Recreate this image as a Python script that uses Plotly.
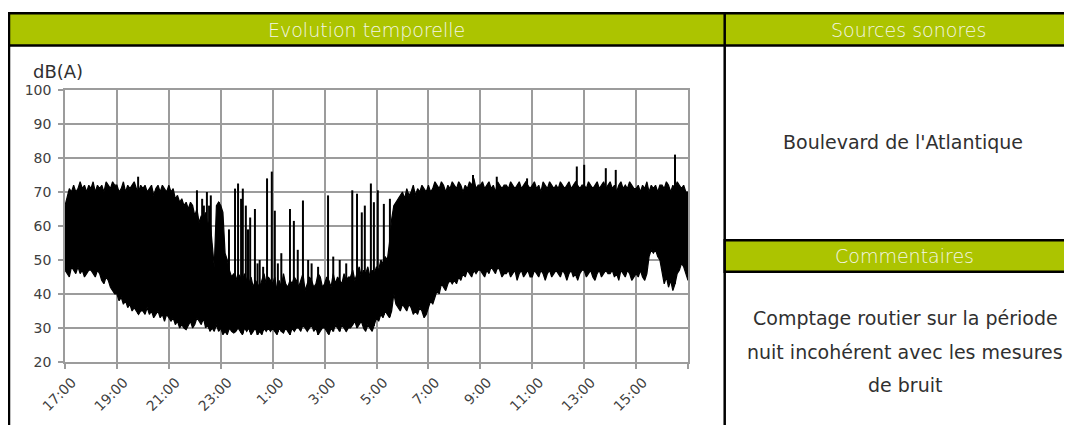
import numpy as np
import plotly.graph_objects as go

# ---------------- data ----------------
# 5-minute envelope of the noise level, 17:00 -> 17:00 next day (289 points)
level_high = [
    66, 69, 71, 70, 72, 70, 71, 73, 71, 72, 70, 72,   # 17h
    71, 73, 70, 72, 71, 72, 70, 73, 72, 71, 73, 72,   # 18h
    72, 70, 71, 73, 70, 72, 71, 72, 73, 71, 70, 72,   # 19h
    71, 72, 70, 71, 72, 69, 71, 72, 70, 72, 71, 70,   # 20h
    72, 70, 71, 68, 69, 67, 68, 66, 67, 65, 67, 66,   # 21h
    63, 65, 61, 63, 62, 64, 60, 62, 55, 48, 66, 67,   # 22h
    66, 64, 52, 50, 47, 45, 46, 44, 46, 45, 44, 46,   # 23h
    44, 43, 45, 42, 44, 43, 42, 44, 46, 43, 45, 44,   # 0h
    43, 45, 41, 44, 42, 46, 43, 42, 44, 43, 45, 44,   # 1h
    42, 44, 46, 41, 43, 45, 44, 42, 43, 46, 45, 42,   # 2h
    43, 45, 44, 42, 46, 43, 45, 44, 43, 46, 44, 45,   # 3h
    45, 47, 44, 46, 48, 45, 47, 46, 48, 45, 47, 46,   # 4h
    48, 47, 50, 49, 51, 50, 55, 62, 66, 67, 68, 69,   # 5h
    70, 68, 71, 69, 70, 72, 69, 71, 70, 72, 71, 70,   # 6h
    72, 70, 71, 73, 72, 71, 73, 72, 70, 72, 71, 73,   # 7h
    72, 71, 73, 72, 70, 72, 71, 73, 72, 74, 71, 72,   # 8h
    72, 73, 71, 72, 73, 71, 72, 70, 73, 72, 71, 72,   # 9h
    72, 71, 73, 72, 71, 72, 73, 71, 72, 73, 72, 71,   # 10h
    72, 73, 71, 72, 70, 73, 72, 71, 73, 72, 71, 72,   # 11h
    71, 73, 72, 71, 72, 73, 71, 72, 73, 72, 71, 72,   # 12h
    72, 71, 73, 72, 71, 72, 73, 71, 72, 73, 71, 72,   # 13h
    73, 71, 72, 70, 72, 73, 71, 72, 71, 73, 72, 71,   # 14h
    71, 72, 70, 72, 71, 73, 70, 72, 71, 72, 70, 72,   # 15h
    72, 71, 73, 72, 70, 72, 71, 73, 72, 71, 72, 70,   # 16h
    70,
]
level_low = [
    47, 46, 45, 48, 47, 46, 48, 46, 47, 45, 46, 47,   # 17h
    47, 46, 45, 47, 46, 44, 43, 45, 44, 42, 41, 40,   # 18h
    40, 38, 39, 37, 38, 36, 37, 35, 36, 35, 34, 35,   # 19h
    35, 34, 36, 34, 35, 33, 34, 35, 33, 34, 32, 34,   # 20h
    33, 32, 33, 31, 32, 30, 31, 30, 29.5, 31, 32, 30, # 21h
    31, 33, 32, 31, 33, 30, 31, 29, 30, 29, 31, 29,   # 22h
    30, 28, 29, 28, 30, 29, 28.5, 29, 30, 29, 28, 30, # 23h
    29, 30, 28, 29, 30, 28, 29, 28, 30, 29, 30, 29,   # 0h
    30, 29, 28, 30, 29, 28.5, 30, 29, 28, 30, 29, 30, # 1h
    30, 29, 31, 30, 29, 30, 31, 29, 30, 28, 29, 30,   # 2h
    30, 29, 28, 30, 29, 31, 30, 29, 31, 30, 29, 30,   # 3h
    30, 31, 32, 30, 31, 32, 30, 29, 31, 30, 29, 31,   # 4h
    33, 32, 34, 33, 35, 34, 33, 35, 40, 37, 36, 35,   # 5h
    37, 36, 35, 37, 36, 34, 35, 34, 36, 35, 33, 34,   # 6h
    36, 38, 37, 39, 41, 40, 43, 42, 41, 43, 44, 43,   # 7h
    44, 43, 45, 44, 46, 45, 47, 46, 45, 47, 46, 47,   # 8h
    47, 46, 45, 47, 46, 48, 47, 46, 48, 47, 45, 46,   # 9h
    46, 47, 45, 46, 47, 44, 46, 47, 45, 46, 47, 45,   # 10h
    45, 47, 46, 45, 47, 46, 44, 46, 47, 45, 46, 47,   # 11h
    46, 45, 47, 46, 44, 46, 47, 45, 46, 44, 46, 47,   # 12h
    47, 45, 46, 47, 45, 44, 46, 47, 45, 46, 47, 46,   # 13h
    46, 47, 45, 46, 44, 47, 46, 45, 47, 46, 44, 45,   # 14h
    46, 45, 47, 45, 44, 46, 51, 53, 52, 53, 51, 50,   # 15h
    47, 43, 45, 42, 44, 41, 43, 46, 47, 49, 48, 46,   # 16h
    44,
]
# isolated peaks (clock time, dB(A))
peak_times = ["19:49", "22:05", "22:17", "22:21", "22:28", "22:33", "22:37", "22:56",
              "23:19", "23:33", "23:40", "23:47", "23:51", "23:58", "0:03", "0:08",
              "0:19", "0:25", "0:30", "0:38", "0:47", "0:58", "1:05", "1:12", "1:20",
              "1:40", "1:49", "1:58", "2:10", "2:22", "2:30", "2:45", "3:08", "3:20",
              "3:35", "3:50", "4:04", "4:15", "4:26", "4:33", "4:47", "4:54",
              "5:03", "5:17", "5:31", "8:43", "9:38", "10:48", "12:43", "13:00",
              "13:50", "14:13", "16:30"]
peak_levels = [74.5, 70.5, 68, 66, 70, 66, 69, 67,
               59, 71, 72.5, 68, 71, 66, 59, 62.5,
               65, 49, 50, 48, 74, 76, 64.5, 49, 52,
               65, 61.5, 53, 67.5, 50, 49, 48, 69, 51,
               50, 49, 70.5, 69.5, 64, 66, 72.5, 67,
               70.5, 66.5, 68, 75, 74.5, 74, 77.5, 78,
               77, 76.5, 81]

tick_labels = ["17:00", "19:00", "21:00", "23:00", "1:00", "3:00", "5:00",
               "7:00", "9:00", "11:00", "13:00", "15:00"]
y_ticks = [20, 30, 40, 50, 60, 70, 80, 90, 100]

# ---------------- figure ----------------
OFF = 8                      # page body margin
W, H = 1072 - OFF, 425 - OFF
L, R, T, B = 65, 688, 90, 362  # plot area in window pixels

def px(xw):
    return (xw - L) / (R - L)

def py(yw):
    return (B - yw) / (B - T)

hours = [i / 12 for i in range(len(level_high))]

def clock_to_hours(s):
    hh, mm = s.split(":")
    m = (int(hh) * 60 + int(mm) - 17 * 60) % 1440
    return m / 60

ph = [clock_to_hours(s) for s in peak_times]
base = np.interp(ph, hours, level_low)
sx, sy = [], []
for t, b0, p in zip(ph, base, peak_levels):
    sx += [t, t, None]
    sy += [b0, p, None]

fig = go.Figure()
fig.add_trace(go.Scatter(x=hours, y=level_low, mode="lines",
                         line=dict(color="black", width=1.2), hoverinfo="skip"))
fig.add_trace(go.Scatter(x=hours, y=level_high, mode="lines", fill="tonexty",
                         fillcolor="black", line=dict(color="black", width=1.2),
                         hoverinfo="skip"))
fig.add_trace(go.Scatter(x=sx, y=sy, mode="lines",
                         line=dict(color="black", width=2), hoverinfo="skip"))

grid = "#9c9c9c"
tick_font = dict(family="DejaVu Sans", size=14, color="#404040")
fig.update_xaxes(range=[0, 24], tickmode="array",
                 tickvals=[0, 2, 4, 6, 8, 10, 12, 14, 16, 18, 20, 22, 24],
                 ticktext=tick_labels + [""], tickangle=-45, ticklabelshift=7,
                 showgrid=True, gridcolor=grid, gridwidth=1.5,
                 showline=True, linecolor=grid, linewidth=1.5, mirror=True,
                 ticks="outside", ticklen=5, tickcolor=grid, tickwidth=1.5,
                 tickfont=tick_font, zeroline=False)
fig.update_yaxes(range=[20, 100], tickmode="array", tickvals=y_ticks,
                 ticklabelstandoff=4,
                 showgrid=True, gridcolor=grid, gridwidth=1.5,
                 showline=True, linecolor=grid, linewidth=1.5, mirror=True,
                 ticks="outside", ticklen=5, tickcolor=grid, tickwidth=1.5,
                 tickfont=tick_font, zeroline=False)

green = "#acc400"
shapes = [
    dict(type="rect", xref="paper", yref="paper", x0=px(9), x1=px(1090),
         y0=py(13.3), y1=py(45.6), fillcolor=green, line=dict(color="black", width=2.5),
         layer="above"),
    dict(type="line", xref="paper", yref="paper", x0=px(9), x1=px(9),
         y0=py(45.6), y1=py(440), line=dict(color="black", width=2.5)),
    dict(type="line", xref="paper", yref="paper", x0=px(724.7), x1=px(724.7),
         y0=py(13.3), y1=py(440), line=dict(color="black", width=2.5)),
    dict(type="rect", xref="paper", yref="paper", x0=px(724.7), x1=px(1090),
         y0=py(240.3), y1=py(271.8), fillcolor=green, line=dict(color="black", width=2.5)),
]

def ann(text, x, y, size, color, xanchor="center", weight=None):
    f = dict(family="DejaVu Sans", size=size, color=color)
    if weight:
        f["weight"] = weight
    return dict(text=text, x=px(x), y=py(y), xref="paper", yref="paper",
                showarrow=False, xanchor=xanchor, yanchor="middle", font=f)

annotations = [
    ann("Evolution temporelle", 366, 30, 19, "#f4f6e6", weight=300),
    ann("Sources sonores", 908, 30, 19, "#f4f6e6", weight=300),
    ann("Commentaires", 904, 256, 19, "#f4f6e6", weight=300),
    ann("Boulevard de l'Atlantique", 903, 142, 19, "#303030"),
    ann("Comptage routier sur la période", 905, 318, 19, "#303030"),
    ann("nuit incohérent avec les mesures", 905, 352, 19, "#303030"),
    ann("de bruit", 905, 385, 19, "#303030"),
    ann("dB(A)", 31, 71, 18, "#303030", xanchor="left"),
]

fig.update_layout(width=W, height=H, autosize=False,
                  margin=dict(l=L - OFF, r=W - (R - OFF), t=T - OFF, b=H - (B - OFF), pad=0),
                  paper_bgcolor="white", plot_bgcolor="white",
                  showlegend=False, shapes=shapes, annotations=annotations)

fig.write_html("out.html")
